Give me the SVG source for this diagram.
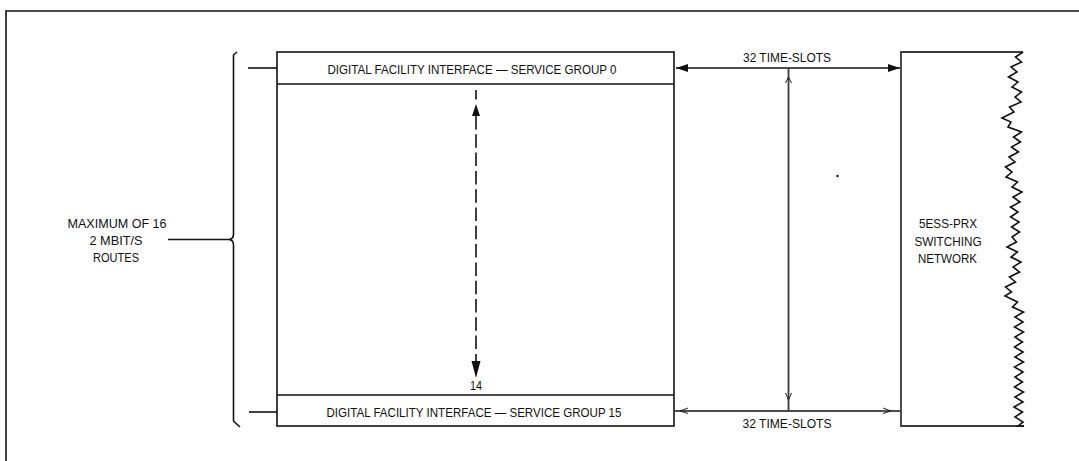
<svg xmlns="http://www.w3.org/2000/svg" width="1079" height="461" viewBox="0 0 1079 461">
<defs>
<style>
.ln{fill:none;stroke:#111;stroke-width:1.6}
.gr{fill:none;stroke:#3a3a3a;stroke-width:1.8}
.thin{fill:none;stroke:#222;stroke-width:1}
.tx{font-family:"Liberation Sans",Arial,sans-serif;font-size:12.8px;fill:#111;text-anchor:middle}
.hd{font-family:"Liberation Sans",Arial,sans-serif;font-size:12.2px;fill:#111;text-anchor:middle}
</style>
<marker id="ah" viewBox="0 0 12 8" refX="12" refY="4" markerWidth="12" markerHeight="8" markerUnits="userSpaceOnUse" orient="auto-start-reverse">
<path d="M0,0 L12,4 L0,8 Z" fill="#111"/>
</marker>
</defs>
<rect width="1079" height="461" fill="#fff"/>
<path class="ln" d="M6,461 V11 H1079" stroke-width="2"/>

<g id="routes-label">
<text class="tx" x="117" y="228" textLength="99" lengthAdjust="spacingAndGlyphs">MAXIMUM OF 16</text>
<text class="tx" x="116" y="245" textLength="53" lengthAdjust="spacingAndGlyphs">2 MBIT/S</text>
<text class="tx" x="116" y="262" textLength="46" lengthAdjust="spacingAndGlyphs">ROUTES</text>
</g>

<g id="bracket">
<path class="ln" d="M237,52 L233.5,55 V234 Q233.5,239 229,239.5 Q233.5,240 233.5,245 V421 L240,427"/>
</g>

<g id="dfi-block">
<rect class="ln" x="277" y="52" width="397" height="374"/>
<line class="ln" x1="277" y1="84" x2="674" y2="84"/>
<line class="ln" x1="277" y1="395" x2="674" y2="395"/>
<text class="hd" x="472" y="73.5" textLength="289" lengthAdjust="spacingAndGlyphs">DIGITAL FACILITY INTERFACE — SERVICE GROUP 0</text>
<text class="hd" x="474" y="417" textLength="295" lengthAdjust="spacingAndGlyphs">DIGITAL FACILITY INTERFACE — SERVICE GROUP 15</text>
<text class="tx" x="476" y="390" textLength="12" lengthAdjust="spacingAndGlyphs">14</text>
</g>

<g id="switching-network">
<path class="gr" d="M1023,52 H901 V426 H1024"/>
<polyline class="ln" stroke-width="1.3" points="1023,52 1015.5,57 1021.5,62 1011,67 1017,72 1008.5,77 1018,82 1012,87 1021.5,92 1015,97 1021,102 1009.5,107 1014,112 1002,118 1011,122 1008,127 1021.5,132 1013.5,137 1020.5,142 1011.5,147 1018.5,152 1009,157 1015,162 1005.5,167 1012,172 1006,177 1017.5,182 1012,187 1022,192 1013,197 1020,202 1010.5,207 1018,212 1010.5,217 1019,222 1011.5,227 1019.5,232 1012,237 1016.5,242 1007,247 1017.5,252 1011,257 1021,262 1013,267 1019.5,272 1009.5,277 1015.5,282 1005.5,287 1011.5,292 1005,296 1017.5,302 1012.5,307 1023.5,312 1015,317 1023,322 1014.5,327 1023.5,332 1015,337 1022.5,342 1014.5,347 1023,352 1015,357 1023.5,362 1014.5,367 1023,372 1015,377 1022.5,382 1014.5,387 1023.5,392 1015,397 1023,402 1014,407 1022.5,412 1015,417 1023,422 1018,426 1024,426"/>
<text class="tx" x="948" y="228" textLength="58" lengthAdjust="spacingAndGlyphs">5ESS-PRX</text>
<text class="tx" x="948" y="245.5" textLength="67" lengthAdjust="spacingAndGlyphs">SWITCHING</text>
<text class="tx" x="947.5" y="262.5" textLength="59" lengthAdjust="spacingAndGlyphs">NETWORK</text>
<circle cx="837.5" cy="176" r="1.2" fill="#111"/>
</g>

<g id="connectors">
<line class="ln" x1="168" y1="239.5" x2="229" y2="239.5"/>
<line class="ln" x1="248" y1="68" x2="277" y2="68"/>
<line class="ln" x1="249" y1="412" x2="277" y2="412"/>
<line class="ln" x1="676" y1="68" x2="900" y2="68" marker-start="url(#ah)" marker-end="url(#ah)"/>
<text class="tx" x="787" y="62" textLength="88" lengthAdjust="spacingAndGlyphs">32 TIME-SLOTS</text>
<line class="ln" x1="675" y1="411" x2="900" y2="411"/>
<path class="thin" d="M688,408 L680,411 L688,413.5 M883,408 L891,411 L883,413.5"/>
<text class="tx" x="787" y="428" textLength="89" lengthAdjust="spacingAndGlyphs">32 TIME-SLOTS</text>
<line class="gr" x1="788.5" y1="68" x2="788.5" y2="411"/>
<path class="thin" d="M785.5,83 L788.5,77 L791.5,83 M785.5,393 L788.5,400 L791.5,393"/>
<line class="ln" stroke-width="2" x1="476" y1="90" x2="476" y2="99.5"/>
<path d="M476,104 L480,116 L472,116 Z" fill="#111"/>
<line class="ln" stroke-width="2" stroke-dasharray="13.5 4.8" x1="476" y1="116" x2="476" y2="362"/>
<path d="M471.5,361 L480.5,361 L476,378 Z" fill="#111"/>
</g>
</svg>
